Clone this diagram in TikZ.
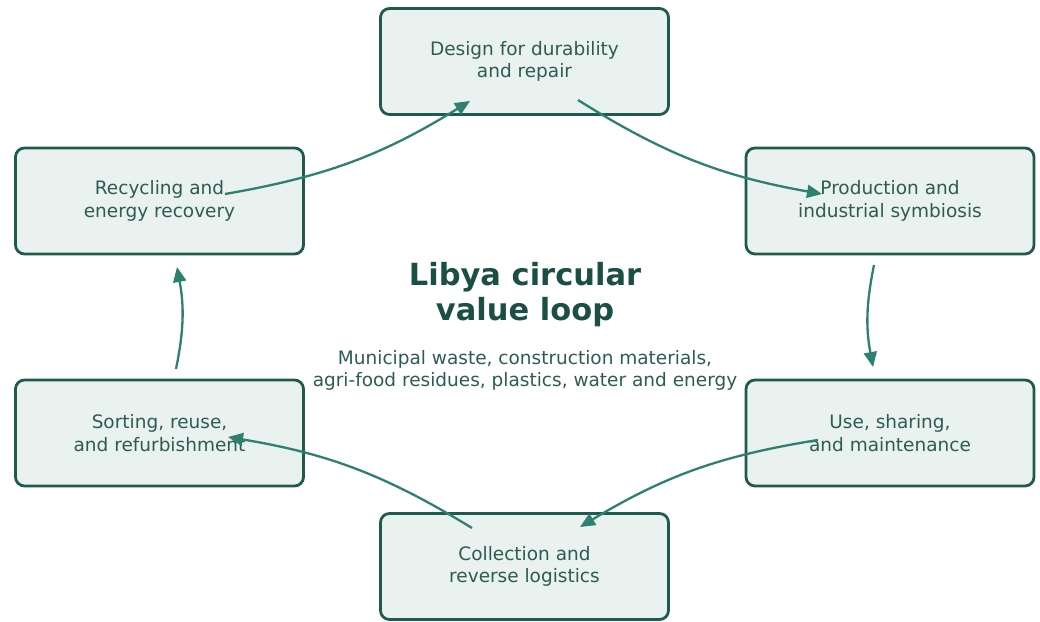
\documentclass[tikz,border=0pt]{standalone}
\usepackage{fontspec}
\setmainfont{DejaVu Sans}
\usetikzlibrary{arrows.meta}
\definecolor{boxfill}{HTML}{E9F2EF}
\definecolor{boxline}{HTML}{1F5A4E}
\definecolor{boxtext}{HTML}{2C5C52}
\definecolor{titlecol}{HTML}{1B4F45}
\definecolor{arrowcol}{HTML}{2E8070}
\tikzset{
  stage/.style={draw=boxline, line width=2.8pt, fill=boxfill, rounded corners=9pt,
    minimum width=288pt, minimum height=106pt, inner sep=0pt, align=center,
    text=boxtext, font=\fontsize{18.5}{22.5}\selectfont},
  flow/.style={draw=arrowcol, line width=2.3pt, bend right=11,
    -{Triangle[length=15pt,width=13pt]}},
}
\begin{document}
\begin{tikzpicture}[x=1pt,y=1pt]
\useasboundingbox (0,0) rectangle (1040,-621);
\node[stage] (design) at (524.5,-61.5) {Design for durability\\and repair};
\node[stage] (prod) at (890,-201) {Production and\\industrial symbiosis};
\node[stage] (use) at (890,-433) {Use, sharing,\\and maintenance};
\node[stage] (coll) at (524.5,-566.5) {Collection and\\reverse logistics};
\node[stage] (sort) at (159.5,-433) {Sorting, reuse,\\and refurbishment};
\node[stage] (rec) at (159.5,-201) {Recycling and\\energy recovery};
\node[align=center, text=titlecol, font=\bfseries\fontsize{30.5}{35}\selectfont] (title) at (525,-295) {Libya circular\\value loop};
\node[align=center, text=boxtext, font=\fontsize{18.5}{22}\selectfont] (sub) at (525,-370) {Municipal waste, construction materials,\\agri-food residues, plastics, water and energy};
\coordinate (a1s) at (225,-194); \coordinate (a1e) at (470,-101);
\coordinate (a2s) at (578,-100); \coordinate (a2e) at (822,-194);
\coordinate (a3s) at (874,-265); \coordinate (a3e) at (873,-367);
\coordinate (a4s) at (818,-440); \coordinate (a4e) at (580,-527);
\coordinate (a5s) at (472,-528); \coordinate (a5e) at (228,-437);
\coordinate (a6s) at (176,-369); \coordinate (a6e) at (177,-267);
\draw[flow] (a1s) to (a1e);
\draw[flow] (a2s) to (a2e);
\draw[flow] (a3s) to (a3e);
\draw[flow] (a4s) to (a4e);
\draw[flow] (a5s) to (a5e);
\draw[flow] (a6s) to (a6e);
\end{tikzpicture}
\end{document}
